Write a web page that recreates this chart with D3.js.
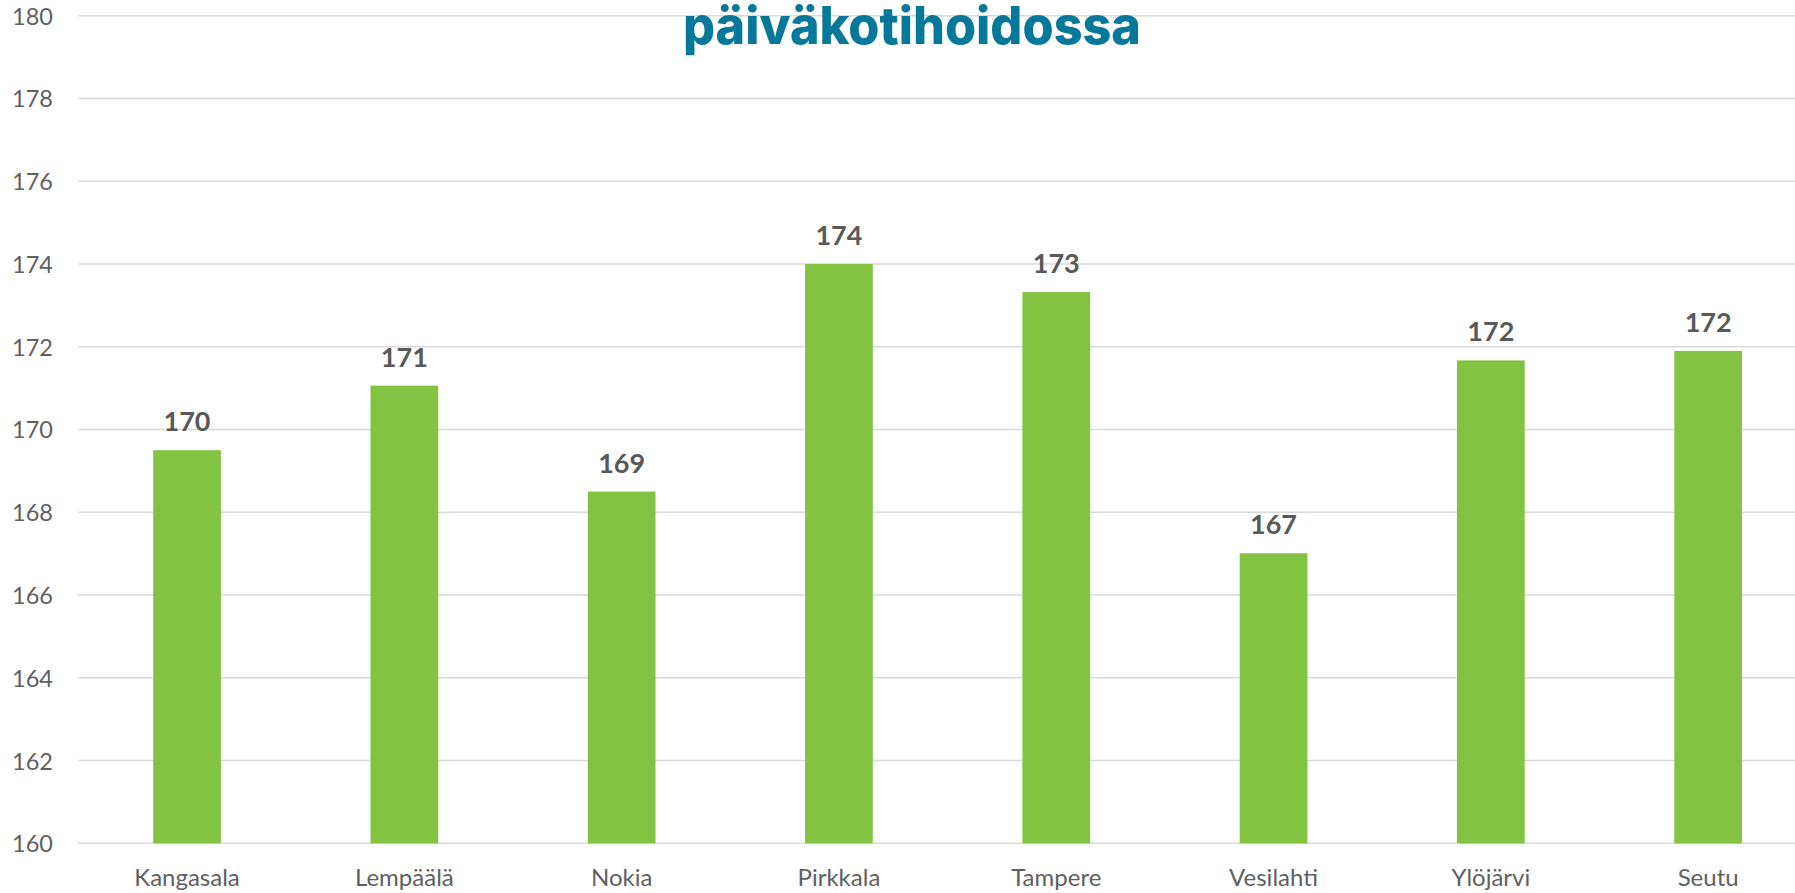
<!DOCTYPE html>
<html>
<head>
<meta charset="utf-8">
<script src="https://cdn.jsdelivr.net/npm/d3@7"></script>
<style>
  html, body { margin: 0; padding: 0; background: #ffffff; }
  svg { display: block; }
</style>
</head>
<body>
<svg id="chart" width="1795" height="893"></svg>
<script>
// ---- data ----
const categories = ["Kangasala", "Lempäälä", "Nokia", "Pirkkala", "Tampere", "Vesilahti", "Ylöjärvi", "Seutu"];
const values = [169.5, 171.06, 168.5, 174.0, 173.32, 167.01, 171.67, 171.9];
const yTicks = [160, 162, 164, 166, 168, 170, 172, 174, 176, 178, 180];
const titleText = "päiväkotihoidossa";

// ---- layout ----
const svg = d3.select("#chart");
const plot = { left: 78.4, right: 1816.8, top: 15.7, bottom: 843.3 };

const x = d3.scaleBand()
  .domain(categories)
  .range([plot.left, plot.right])
  .paddingInner(0.6885)
  .paddingOuter(0.6885 / 2);

const y = d3.scaleLinear()
  .domain([160, 180])
  .range([plot.bottom, plot.top]);

// gridlines
svg.append("g")
  .selectAll("line")
  .data(yTicks)
  .join("line")
  .attr("x1", plot.left)
  .attr("x2", plot.right)
  .attr("y1", d => y(d))
  .attr("y2", d => y(d))
  .attr("stroke", "#d9d9d9")
  .attr("stroke-width", 1.6);

// y axis labels
const yAxis = d3.axisLeft(y).tickValues(yTicks).tickSize(0).tickPadding(0).tickFormat(d3.format("d"));
const yg = svg.append("g")
  .attr("transform", "translate(53,0)")
  .call(yAxis);
yg.select(".domain").remove();
yg.selectAll("text")
  .attr("fill", "#606060")
  .attr("font-family", "Lato, 'Noto Sans', sans-serif")
  .attr("font-size", 23.5)
  .attr("dy", "0.36em");

// bars
svg.append("g")
  .selectAll("rect")
  .data(categories)
  .join("rect")
  .attr("x", d => x(d))
  .attr("width", x.bandwidth())
  .attr("y", (d, i) => y(values[i]))
  .attr("height", (d, i) => y(160) - y(values[i]))
  .attr("fill", "#82c341");

// data labels
svg.append("g")
  .selectAll("text")
  .data(categories)
  .join("text")
  .attr("x", d => x(d) + x.bandwidth() / 2)
  .attr("y", (d, i) => y(values[i]) - 19)
  .attr("text-anchor", "middle")
  .attr("fill", "#595959")
  .attr("font-family", "Lato, 'Noto Sans', sans-serif")
  .attr("font-weight", 700)
  .attr("font-size", 27)
  .text((d, i) => Math.round(values[i]));

// x axis labels
const xAxis = d3.axisBottom(x).tickSize(0).tickPadding(0);
const xg = svg.append("g")
  .attr("transform", `translate(0,${plot.bottom})`)
  .call(xAxis);
xg.select(".domain").remove();
xg.selectAll("text")
  .attr("fill", "#606060")
  .attr("font-family", "Lato, 'Noto Sans', sans-serif")
  .attr("font-size", 24)
  .attr("dy", null)
  .attr("y", 42.4);

// title (its upper part lies above the picture, as in the reference)
svg.append("text")
  .attr("x", 912)
  .attr("y", 44.3)
  .attr("text-anchor", "middle")
  .attr("fill", "#06799b")
  .attr("font-family", "Inter, 'Open Sans', sans-serif")
  .attr("font-weight", 800)
  .attr("font-size", 52)
  .attr("textLength", 458)
  .attr("lengthAdjust", "spacingAndGlyphs")
  .text(titleText);
</script>
</body>
</html>
